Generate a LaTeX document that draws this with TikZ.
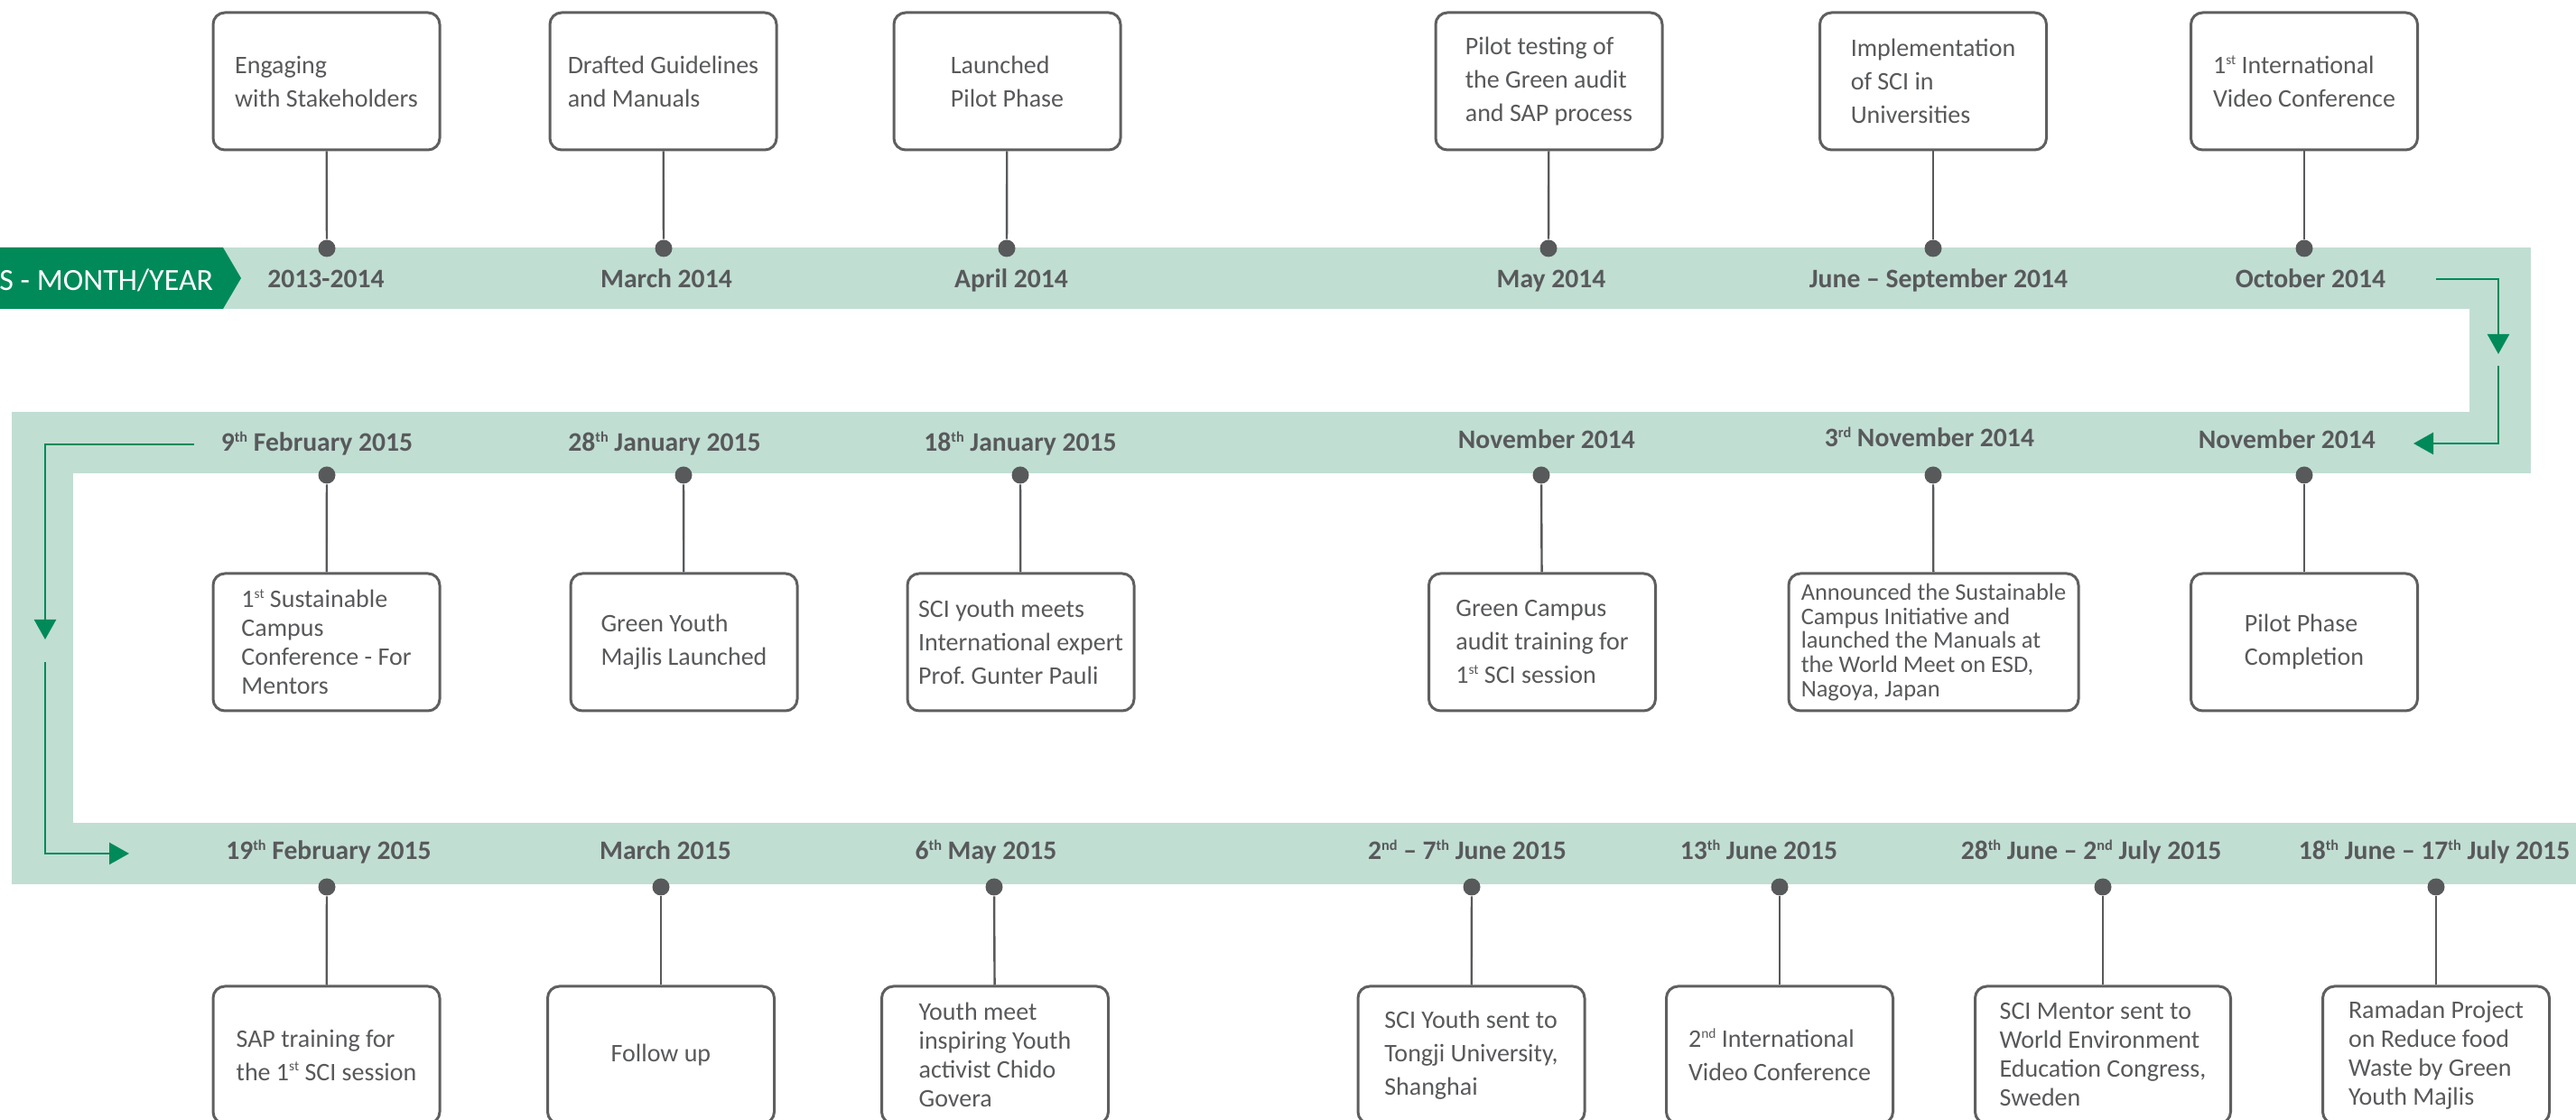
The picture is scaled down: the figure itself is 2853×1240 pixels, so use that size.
\documentclass[tikz,border=0pt]{standalone}
\usepackage{fontspec}
\setmainfont{Carlito}
\usetikzlibrary{arrows.meta}
\definecolor{band}{RGB}{193,222,211}
\definecolor{dgreen}{RGB}{0,138,90}
\definecolor{txt}{RGB}{88,89,91}
\definecolor{edge}{RGB}{95,95,95}
\newcommand\ordsup[1]{\raisebox{0.75ex}{\scalebox{0.55}{#1}}}
\begin{document}
\begin{tikzpicture}[x=0.25pt,y=-0.25pt,
  ebox/.style={draw=edge, line width=0.75pt, rounded corners=3.25pt, fill=white,
    minimum width=62.75pt, minimum height=38pt, inner sep=0pt, align=left,
    text=txt, font=\fontsize{7}{9.25}\selectfont},
  tight/.style={font=\fontsize{7}{8}\selectfont},
  dotn/.style={circle, fill=txt, inner sep=0pt, minimum size=4.75pt},
  date/.style={anchor=base, text=txt, inner sep=0pt, font=\bfseries\fontsize{7.4}{9}\selectfont},
  conn/.style={draw=txt, line width=0.6pt},
  flow/.style={draw=dgreen, line width=0.625pt},
  flowtip/.style={flow, -{Triangle[length=5.5pt,width=6pt]}}
]
\useasboundingbox (0,0) rectangle (2853,1240);
\clip (0,0) rectangle (2853,1240);

% timeline band
\fill[band] (0,274) rectangle (2803,342);
\fill[band] (2735,274) rectangle (2803,524);
\fill[band] (13,456) rectangle (2803,524);
\fill[band] (13,456) rectangle (81,979);
\fill[band] (13,911) rectangle (2853,979);

% header tag
\fill[dgreen] (-2,274) -- (247,274) -- (267,308) -- (247,342) -- (-2,342) -- cycle;
\node[anchor=base east, text=white, inner sep=0pt, font=\fontsize{8.5}{10}\selectfont] (hdr) at (237,322) {S - MONTH/YEAR};

% flow arrows
\coordinate (fa1) at (2698,309);
\coordinate (fa2) at (2767,392);
\coordinate (fa3) at (2767,405);
\coordinate (fa4) at (2673,491);
\coordinate (fb1) at (215,492);
\coordinate (fb2) at (50,708);
\coordinate (fb3) at (50,733);
\coordinate (fb4) at (143,945);
\draw[flowtip] (fa1) -| (fa2);
\draw[flowtip] (fa3) |- (fa4);
\draw[flowtip] (fb1) -| (fb2);
\draw[flowtip] (fb3) |- (fb4);

% dates row 1
\node[date] (t1) at (361,319) {2013-2014};
\node[date] (t2) at (738,319) {March 2014};
\node[date] (t3) at (1120,319) {April 2014};
\node[date] (t4) at (1718,319) {May 2014};
\node[date] (t5) at (2147,319) {June – September 2014};
\node[date] (t6) at (2559,319) {October 2014};
% dates row 2
\node[date] (u1) at (351,500) {9\ordsup{th} February 2015};
\node[date] (u2) at (736,500) {28\ordsup{th} January 2015};
\node[date] (u3) at (1130,500) {18\ordsup{th} January 2015};
\node[date] (u4) at (1713,497) {November 2014};
\node[date] (u5) at (2137,495) {3\ordsup{rd} November 2014};
\node[date] (u6) at (2533,497) {November 2014};
% dates row 3
\node[date] (v1) at (364,952) {19\ordsup{th} February 2015};
\node[date] (v2) at (737,952) {March 2015};
\node[date] (v3) at (1092,952) {6\ordsup{th} May 2015};
\node[date] (v4) at (1625,952) {2\ordsup{nd} – 7\ordsup{th} June 2015};
\node[date] (v5) at (1948,952) {13\ordsup{th} June 2015};
\node[date] (v6) at (2316,952) {28\ordsup{th} June – 2\ordsup{nd} July 2015};
\node[date, anchor=base east] (v7) at (2847,952) {18\ordsup{th} June – 17\ordsup{th} July 2015};

% boxes row 1
\node[ebox] (b1) at (361.5,90) {Engaging\\with Stakeholders};
\node[ebox] (b2) at (734.5,90) {Drafted Guidelines\\and Manuals};
\node[ebox] (b3) at (1115.5,90) {Launched\\Pilot Phase};
\node[ebox] (b4) at (1715.5,90) {Pilot testing of\\the Green audit\\and SAP process};
\node[ebox] (b5) at (2141,90) {Implementation\\of SCI in\\Universities};
\node[ebox] (b6) at (2552,90) {1\ordsup{st} International\\Video Conference};
% boxes row 2
\node[ebox, tight] (c1) at (361.5,711) {1\ordsup{st} Sustainable\\Campus\\Conference - For\\Mentors};
\node[ebox] (c2) at (757.5,711) {Green Youth\\Majlis Launched};
\node[ebox] (c3) at (1130.5,711) {SCI youth meets\\International expert\\Prof.\ Gunter Pauli};
\node[ebox] (c4) at (1708,711) {Green Campus\\audit training for\\1\ordsup{st} SCI session};
\node[ebox, minimum width=80.25pt, font=\fontsize{6.6}{6.7}\selectfont] (c5) at (2141.5,711) {Announced the Sustainable\\Campus Initiative and\\launched the Manuals at\\the World Meet on ESD,\\Nagoya, Japan};
\node[ebox] (c6) at (2552,711) {Pilot Phase\\Completion};
% boxes row 3
\node[ebox] (e1) at (361.5,1168) {SAP training for\\the 1\ordsup{st} SCI session};
\node[ebox] (e2) at (732,1168) {Follow up};
\node[ebox, tight] (e3) at (1102,1168) {Youth meet\\inspiring Youth\\activist Chido\\Govera};
\node[ebox] (e4) at (1629.5,1168) {SCI Youth sent to\\Tongji University,\\Shanghai};
\node[ebox] (e5) at (1971,1168) {2\ordsup{nd} International\\Video Conference};
\node[ebox, tight, minimum width=70.75pt] (e6) at (2329,1168) {SCI Mentor sent to\\World Environment\\Education Congress,\\Sweden};
\node[ebox, tight] (e7) at (2698,1168) {Ramadan Project\\on Reduce food\\Waste by Green\\Youth Majlis};

% dots
\node[dotn] (db1) at (362,275) {};
\node[dotn] (db2) at (735,275) {};
\node[dotn] (db3) at (1115,275) {};
\node[dotn] (db4) at (1715,275) {};
\node[dotn] (db5) at (2141,275) {};
\node[dotn] (db6) at (2552,275) {};
\node[dotn] (dc1) at (362,526) {};
\node[dotn] (dc2) at (757,526) {};
\node[dotn] (dc3) at (1130,526) {};
\node[dotn] (dc4) at (1707,526) {};
\node[dotn] (dc5) at (2141,526) {};
\node[dotn] (dc6) at (2552,526) {};
\node[dotn] (de1) at (362,982) {};
\node[dotn] (de2) at (732,982) {};
\node[dotn] (de3) at (1101,982) {};
\node[dotn] (de4) at (1630,982) {};
\node[dotn] (de5) at (1971,982) {};
\node[dotn] (de6) at (2329,982) {};
\node[dotn] (de7) at (2698,982) {};

% connectors
\foreach \a/\b in {b1/db1,b2/db2,b3/db3,b4/db4,b5/db5,b6/db6,
                   c1/dc1,c2/dc2,c3/dc3,c4/dc4,c5/dc5,c6/dc6,
                   e1/de1,e2/de2,e3/de3,e4/de4,e5/de5,e6/de6,e7/de7}
  \draw[conn] (\a) -- (\b);
\end{tikzpicture}
\end{document}
